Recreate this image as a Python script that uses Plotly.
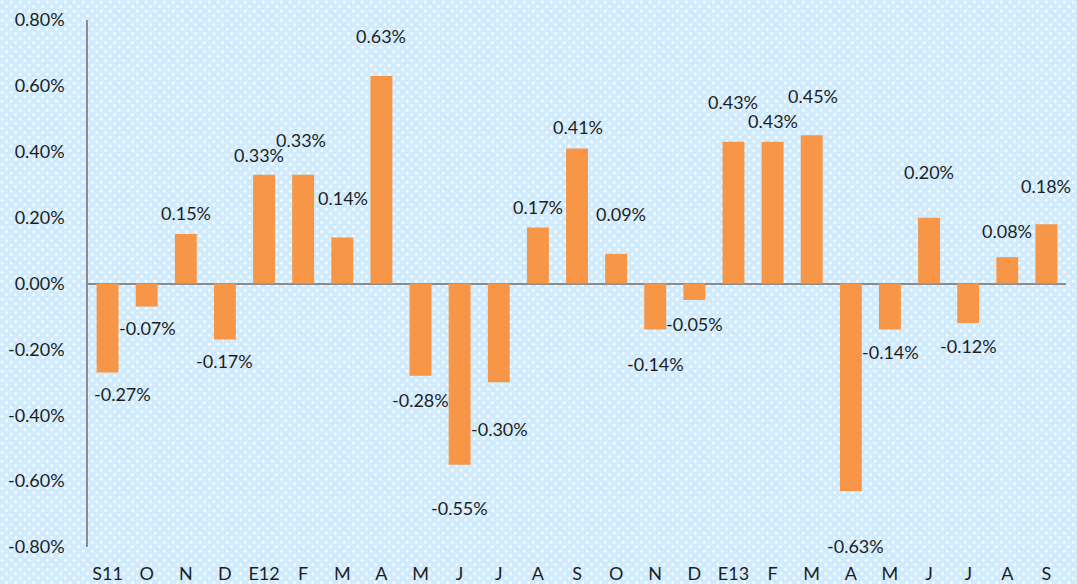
import plotly.graph_objects as go
import base64

# ---- data ----
categories = ["S11", "O", "N", "D", "E12", "F", "M", "A", "M", "J", "J", "A", "S",
              "O", "N", "D", "E13", "F", "M", "A", "M", "J", "J", "A", "S"]
values = [-0.27, -0.07, 0.15, -0.17, 0.33, 0.33, 0.14, 0.63, -0.28, -0.55, -0.30, 0.17, 0.41,
          0.09, -0.14, -0.05, 0.43, 0.43, 0.45, -0.63, -0.14, 0.20, -0.12, 0.08, 0.18]
y_ticks = [-0.8, -0.6, -0.4, -0.2, 0.0, 0.2, 0.4, 0.6, 0.8]

# label offsets (pixels) relative to bar end: style only
label_dx = [15, 1, 0, 0, -5, -2, 1, 0, 0, 0, 1, 0, 1, 5, 0, 0, 0, 0, 1, 5, 1, 0, 0, 0, 0]
label_dy = [22, 21, -21, 22, -20, -35, -39, -40, 24, 43, 47, -21, -21, -40, 34, 24, -40, -21, -39, 55, 22, -46, 23, -26, -38]

W, H = 1077, 584
ml, mr, mt, mb = 88, 11, 20, 37
pw, ph = W - ml - mr, H - mt - mb

# dotted light-blue background pattern
svg = f'''<svg xmlns="http://www.w3.org/2000/svg" width="{W}" height="{H}">
<defs><pattern id="p" width="9" height="9" patternUnits="userSpaceOnUse">
<rect width="9" height="9" fill="#CFEBFD"/>
<circle cx="2.25" cy="2.25" r="1.4" fill="#FFFFFF" fill-opacity="0.85"/>
<circle cx="6.75" cy="6.75" r="1.4" fill="#FFFFFF" fill-opacity="0.85"/>
</pattern></defs>
<rect width="{W}" height="{H}" fill="url(#p)"/></svg>'''
bg_src = "data:image/svg+xml;base64," + base64.b64encode(svg.encode()).decode()

x_idx = list(range(len(categories)))
font_family = "Lato"
text_color = "#1E1E1E"

fig = go.Figure()
fig.add_trace(go.Bar(
    x=x_idx, y=values,
    marker=dict(color="#F79646", line=dict(width=0)),
    hoverinfo="skip",
))

annotations = []
for i, v in enumerate(values):
    annotations.append(dict(
        x=i, y=v, xref="x", yref="y",
        text=f"{v:.2f}%", showarrow=False,
        xanchor="center", yanchor="middle",
        xshift=label_dx[i], yshift=-label_dy[i],
        font=dict(family=font_family, size=18, color=text_color),
    ))

fig.update_layout(
    width=W, height=H,
    margin=dict(l=ml, r=mr, t=mt, b=mb, pad=0, autoexpand=False),
    paper_bgcolor="#D0EBFD",
    plot_bgcolor="rgba(0,0,0,0)",
    bargap=0.44,
    showlegend=False,
    annotations=annotations,
    font=dict(family=font_family, size=18, color=text_color),
    images=[dict(
        source=bg_src, xref="paper", yref="paper",
        x=-ml / pw, y=1 + mt / ph, sizex=W / pw, sizey=H / ph,
        xanchor="left", yanchor="top", sizing="stretch", layer="below",
    )],
    xaxis=dict(
        range=[-0.5, len(categories) - 0.5],
        tickmode="array", tickvals=x_idx, ticktext=categories,
        showgrid=False, zeroline=False, showline=False,
        ticks="", ticklabelstandoff=14, automargin=False,
        tickfont=dict(family=font_family, size=18, color=text_color),
    ),
    yaxis=dict(
        range=[-0.8, 0.8],
        tickmode="array", tickvals=y_ticks,
        ticktext=[f"{t:.2f}%" for t in y_ticks],
        showgrid=False,
        zeroline=True, zerolinecolor="#8C8C8C", zerolinewidth=1.5,
        showline=True, linecolor="#8C8C8C", linewidth=1.5,
        ticks="", ticklabelstandoff=18, automargin=False,
        tickfont=dict(family=font_family, size=18, color=text_color),
    ),
)

fig.write_html(
    "out.html",
    config={"displayModeBar": False},
    post_script="document.body.style.margin='0';document.body.style.background='#CFEBFD';",
)
